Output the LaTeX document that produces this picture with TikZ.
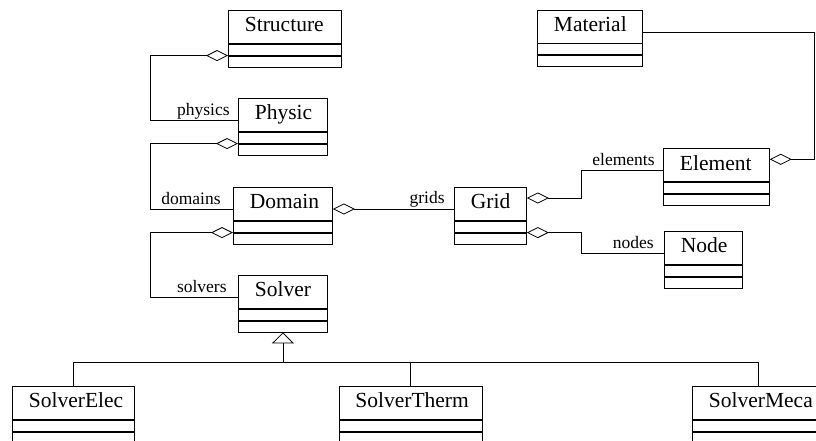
\documentclass[tikz,border=0pt]{standalone}
\usepackage{fontspec}
\setmainfont{Liberation Serif}
\usetikzlibrary{arrows.meta,calc}
\newcommand{\umlclass}[5]{%
  \node[cls, minimum width=#4pt] (#1) at (#2,#3) {\makebox[#4pt][l]{\hspace{16.5pt}#5}};
  \node[cmp, minimum width=#4pt] (#1a) at (#1.south) {};
  \node[cmp, minimum width=#4pt] (#1b) at (#1a.south) {};
}
\begin{document}
\begin{tikzpicture}[x=1pt,y=-1pt, line width=0.8pt,
  cls/.style={draw, inner sep=0pt, minimum height=33pt, text height=14pt, text depth=4pt,
              font=\fontsize{21.5}{24}\selectfont, anchor=north west},
  cmp/.style={draw, inner sep=0pt, minimum height=11pt, anchor=north},
  lbl/.style={font=\fontsize{17.5}{20}\selectfont, anchor=base east, inner sep=0pt},
  agg/.style={-{Diamond[open,length=22pt,width=11pt]}},
  inh/.style={-{Triangle[open,length=11pt,width=22pt]}}]
\clip (0,0) rectangle (816,440);

\umlclass{structure}{228}{10}{113}{Structure}
\umlclass{physic}{238}{98}{89}{Physic}
\umlclass{domain}{233}{187}{99}{Domain}
\umlclass{solver}{238}{275}{89}{Solver}
\umlclass{grid}{454}{187}{72}{Grid}
\umlclass{material}{537}{9.5}{105}{Material}
\umlclass{element}{663}{148.3}{106}{Element}
\umlclass{nodecls}{664}{231}{78}{Node}
\umlclass{solverelec}{12}{386}{122}{SolverElec}
\umlclass{solvertherm}{338.5}{386}{143.5}{SolverTherm}
\umlclass{solvermeca}{692}{386}{132}{SolverMeca}

% aggregations
\draw[agg] ($(physic.north west)+(0,22)$) coordinate (p1) -- ++(-88,0) |- (structurea.south west);
\node[lbl] at ($(p1)+(-8,-5)$) {physics};

\draw[agg] ($(domain.north west)+(0,22)$) coordinate (d1) -- ++(-83,0) |- (physica.south west);
\node[lbl] at ($(d1)+(-12,-5)$) {domains};

\draw[agg] ($(solver.north west)+(0,22)$) coordinate (s1) -- ++(-88,0) |- (domaina.south west);
\node[lbl] at ($(s1)+(-11,-5)$) {solvers};

\draw[agg] ($(grid.north west)+(0,22)$) coordinate (g1) -- (domain.east |- g1);
\node[lbl] at ($(g1)+(-9,-6)$) {grids};

\draw[agg] ($(element.north west)+(0,22.4)$) coordinate (e1) -- ++(-81.5,0) |- ($(grid.north east)+(0,11)$);
\node[lbl] at ($(e1)+(-8,-5.5)$) {elements};

\draw[agg] ($(nodecls.north west)+(0,22.3)$) coordinate (n1) -- ++(-82.3,0) |- (grida.south east);
\node[lbl] at ($(n1)+(-10,-5)$) {nodes};

\draw[agg] ($(material.north east)+(0,23)$) -- ++(171.3,0) |- ($(element.north east)+(0,11)$);

% inheritance
\coordinate (jn) at (283,362);
\draw[inh] (solverb.south |- jn) -- (solverb.south);
\draw (solverelec.north) -- ++(0,-23.7) -| (solvermeca.north);
\draw (solvertherm.north) -- ++(0,-23.7);
\end{tikzpicture}
\end{document}
